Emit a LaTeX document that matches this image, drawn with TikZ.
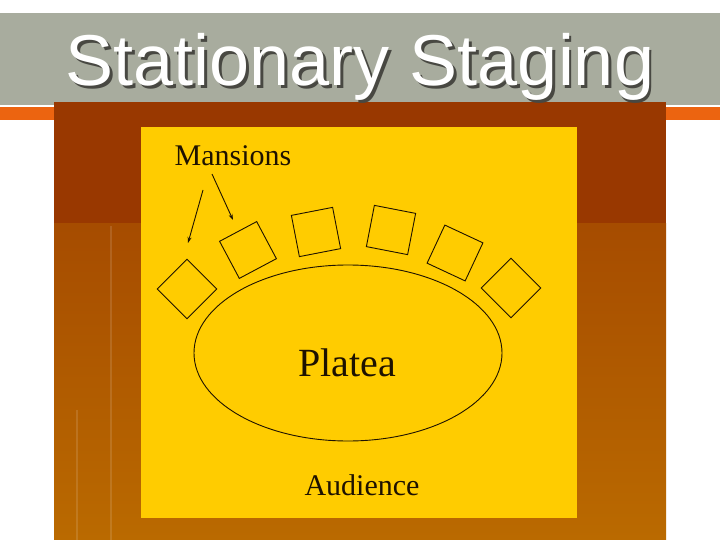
\documentclass[tikz,border=0pt]{standalone}
\usepackage{fontspec}
\setmainfont{Liberation Serif}
\newfontfamily\titlefont{Liberation Sans}
\usetikzlibrary{shapes.geometric,arrows.meta}
\definecolor{bandgray}{RGB}{168,172,158}
\definecolor{bandorange}{RGB}{236,100,16}
\definecolor{browntop}{RGB}{153,56,0}
\definecolor{brownmid}{RGB}{166,76,0}
\definecolor{brownbot}{RGB}{186,106,0}
\definecolor{panelyellow}{RGB}{255,204,0}
\definecolor{inkdark}{RGB}{30,18,0}
\definecolor{shadowgray}{RGB}{72,72,66}
\tikzset{
  mansion/.style={draw=inkdark, line width=0.9pt, rectangle, minimum size=42pt, inner sep=0pt},
  lbl/.style={inner sep=0pt, anchor=base, text=inkdark},
  pointer/.style={draw=inkdark, line width=0.9pt, -{Stealth[length=6pt,width=4pt]}}
}
\begin{document}
\begin{tikzpicture}[x=1pt,y=-1pt]
\useasboundingbox (0,0) rectangle (720,540);
\fill[white] (0,0) rectangle (720,540);
% title band
\fill[bandgray] (0,13) rectangle (720,105);
\fill[bandorange] (0,107) rectangle (720,120);
% brown panel
\fill[browntop] (54,102) rectangle (666,224);
\shade[top color=brownmid, bottom color=brownbot] (54,224) rectangle (666,540);
\draw[white, opacity=0.12, line width=1.5pt] (111,226) -- (111,540);
\draw[white, opacity=0.12, line width=1.5pt] (77,410) -- (77,540);
% yellow panel
\fill[panelyellow] (141,127) rectangle (577,518);
% title
\node[lbl, text=shadowgray, font=\titlefont\fontsize{72}{72}\selectfont] at (362.5,88.5) {Stationary Staging};
\node[lbl, text=white, font=\titlefont\fontsize{72}{72}\selectfont] (title) at (360,86) {Stationary Staging};
% platea
\node[ellipse, draw=inkdark, line width=0.9pt, minimum width=308pt, minimum height=176pt, inner sep=0pt] (platea) at (348,353) {};
\node[lbl, font=\fontsize{40}{40}\selectfont] (plateatext) at (347,376) {Platea};
\node[lbl, font=\fontsize{30}{30}\selectfont] (audience) at (362,495) {Audience};
\node[lbl, font=\fontsize{30}{30}\selectfont] (mansions) at (233,166) {Mansions};
% mansions
\node[mansion, rotate=45] (m1) at (187,289) {};
\node[mansion, rotate=28] (m2) at (248,250) {};
\node[mansion, rotate=11] (m3) at (316,232) {};
\node[mansion, rotate=-11] (m4) at (391,230) {};
\node[mansion, rotate=-25] (m5) at (455,253) {};
\node[mansion, rotate=45] (m6) at (511,288) {};
% pointers
\coordinate (p1s) at (203,190);
\coordinate (p1e) at (188,243);
\coordinate (p2s) at (212,174);
\coordinate (p2e) at (233,220);
\draw[pointer] (p1s) -- (p1e);
\draw[pointer] (p2s) -- (p2e);
\end{tikzpicture}
\end{document}
